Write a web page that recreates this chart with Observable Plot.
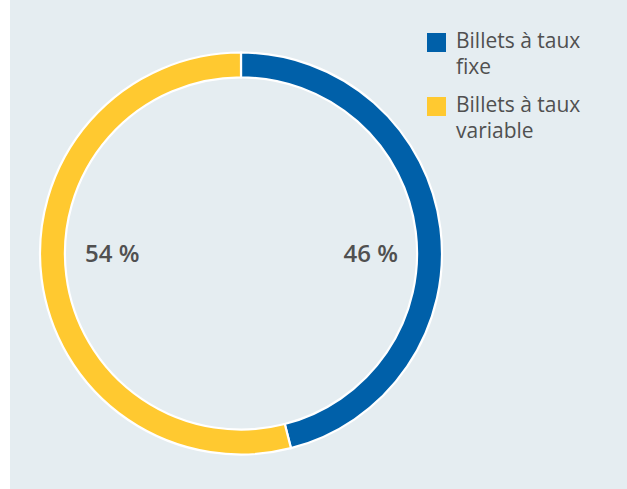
<!DOCTYPE html>
<html>
<head>
<meta charset="utf-8">
<script src="https://cdn.jsdelivr.net/npm/d3@7"></script>
<script src="https://cdn.jsdelivr.net/npm/@observablehq/plot@0.6"></script>
<style>
  html, body { margin: 0; padding: 0; background: #ffffff; }
  #wrap { position: relative; width: 627px; height: 489px; }
  #panel { position: absolute; left: 10px; top: 0; width: 617px; height: 489px; background: #e5edf1; }
  #chart { position: absolute; left: 0; top: 0; }
  #legend { position: absolute; left: 427px; top: 27px; font-family: "Open Sans", sans-serif; font-size: 21px; color: #505050; line-height: 26px; }
  .item { position: relative; padding-left: 29px; margin-bottom: 12px; width: 140px; }
  .sw { position: absolute; left: 0; top: 6px; width: 19px; height: 19px; }
</style>
</head>
<body>
<div id="wrap">
  <div id="panel"></div>
  <div id="chart"></div>
  <div id="legend"></div>
</div>
<script>
const categories = ["Billets à taux fixe", "Billets à taux variable"];
const shares = [46, 54];
const labels = ["46 %", "54 %"];
const colors = ["#0060a9", "#ffc930"];

const data = categories.map((c, i) => ({category: c, share: shares[i], label: labels[i], color: colors[i]}));

const W = 627, H = 489;
const cx = 241, cy = 253.5, R = 201;
const innerFrac = 0.876;

const pie = d3.pie().value(d => d.share).sort(null)(data);

const donutMark = (index, scales, values, dimensions, context) => {
  const x = scales.x, y = scales.y;
  const x0 = x(0), y0 = y(0);
  const rOut = x(1) - x(0);
  const arc = d3.arc().innerRadius(rOut * innerFrac).outerRadius(rOut);
  const g = d3.create("svg:g").attr("transform", `translate(${x0},${y0})`);
  g.selectAll("path").data(pie).join("path")
    .attr("d", arc)
    .attr("fill", d => d.data.color)
    .attr("stroke", "#ffffff")
    .attr("stroke-width", 2.2)
    .attr("stroke-linejoin", "miter");
  return g.node();
};

// label positions: horizontal, on the side where the slice's midpoint lies
const labelData = pie.map(p => {
  const mid = (p.startAngle + p.endAngle) / 2;
  return {label: p.data.label, x: Math.sign(Math.sin(mid)) * 0.643, y: 0};
});

const plot = Plot.plot({
  width: W,
  height: H,
  margin: 0,
  x: {domain: [-cx / R, (W - cx) / R], range: [0, W], axis: null},
  y: {domain: [-(H - cy) / R, cy / R], range: [H, 0], axis: null},
  style: {background: "transparent", overflow: "visible"},
  marks: [
    donutMark,
    Plot.text(labelData, {
      x: "x", y: "y", text: "label",
      fontSize: 24, fontWeight: 600, fill: "#505050",
      fontFamily: "Open Sans, sans-serif"
    })
  ]
});
document.getElementById("chart").appendChild(plot);

const legend = document.getElementById("legend");
data.forEach(d => {
  const it = document.createElement("div");
  it.className = "item";
  it.innerHTML = `<span class="sw" style="background:${d.color}"></span>${d.category}`;
  legend.appendChild(it);
});
</script>
</body>
</html>
